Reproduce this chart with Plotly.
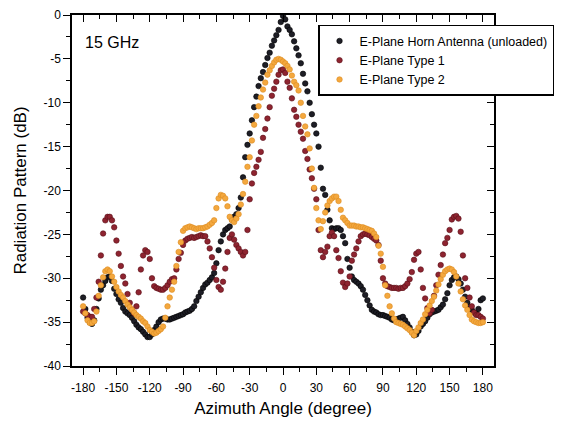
import plotly.graph_objects as go

angles = list(range(-180, 181, 2))

horn_unloaded = [
    -32.2, -33.5, -34.5, -35.0, -35.2, -34.8, -33.5, -32.3, -31.3, -30.8,
    -30.3, -29.9, -29.8, -30.3, -31.2, -31.8, -32.4, -32.8, -33.4, -33.8,
    -34.0, -34.2, -34.5, -34.9, -35.3, -35.6, -35.8, -36.1, -36.4, -36.7,
    -36.7, -36.4, -35.9, -35.5, -35.0, -34.7, -34.6, -34.6, -34.7, -34.7,
    -34.6, -34.5, -34.4, -34.3, -34.2, -34.1, -33.9, -33.8, -33.7, -33.5,
    -33.2, -32.6, -32.1, -31.6, -31.1, -30.7, -30.5, -30.2, -29.9, -29.4,
    -28.3, -26.8, -25.8, -25.0, -24.5, -24.3, -24.1, -23.3, -23.0, -22.7,
    -22.0, -20.8, -18.5, -16.2, -14.8, -13.5, -12.0, -10.5, -9.3, -8.1,
    -7.2, -6.5, -5.7, -4.9, -4.3, -3.5, -2.9, -2.3, -1.7, -0.8,
    -0.1,
    -0.5, -1.3, -1.7, -2.2, -3.0, -3.8, -4.6, -5.5, -6.7, -7.8,
    -8.7, -10.0, -11.3, -12.5, -13.5, -15.0, -17.4, -19.8, -20.5, -22.2,
    -23.4, -24.3, -24.4, -24.3, -24.3, -24.5, -25.2, -26.0, -27.8, -28.8,
    -29.8, -30.2, -30.4, -30.6, -30.9, -31.3, -31.9, -32.5, -33.1, -33.6,
    -33.8, -33.9, -34.1, -34.2, -34.2, -34.3, -34.4, -34.5, -34.7, -34.8,
    -34.7, -34.6, -34.5, -34.4, -34.8, -35.2, -35.6, -36.1, -36.5, -36.4,
    -36.0, -35.5, -35.2, -34.9, -34.5, -34.1, -33.9, -33.8, -33.7, -33.6,
    -33.3, -33.0, -32.4, -31.7, -30.8, -30.2, -29.9, -29.8, -30.1, -30.6,
    -31.3, -32.1, -32.8, -33.3, -33.6, -33.9, -34.0, -33.5, -32.5, -32.3,
]

type1 = [
    -33.8, -34.0, -34.2, -34.4, -34.4, -33.5, -32.2, -30.4, -27.4, -24.9,
    -23.4, -23.0, -23.0, -23.4, -24.2, -25.7, -27.2, -28.6, -29.8, -30.6,
    -31.8, -32.8, -33.6, -34.0, -33.2, -31.6, -29.0, -27.4, -26.8, -27.0,
    -27.8, -30.0, -30.9, -31.1, -31.2, -31.3, -31.3, -31.1, -30.8, -30.4,
    -30.1, -30.0, -29.0, -27.8, -27.1, -26.2, -25.7, -25.5, -25.4, -25.3,
    -25.4, -25.3, -25.2, -25.1, -25.2, -25.2, -25.8, -26.6, -27.6, -28.8,
    -30.2, -31.0, -31.3, -30.4, -28.9, -27.0, -25.4, -25.0, -25.6, -26.2,
    -26.6, -27.0, -27.4, -27.0, -24.5, -21.0, -19.2, -18.0, -17.3, -16.5,
    -15.6, -14.0, -13.0, -11.8, -10.5, -9.2, -8.4, -7.6, -6.8, -6.3,
    -6.2,
    -6.6, -7.6, -8.3, -9.5, -10.8, -11.6, -12.5, -13.3, -14.1, -15.5,
    -16.4, -17.6, -18.6, -19.8, -21.0, -24.5, -26.8, -27.6, -27.0, -26.4,
    -25.2, -24.8, -25.2, -26.8, -27.7, -29.2, -30.5, -31.0, -30.6, -29.8,
    -28.0, -27.3, -26.6, -25.8, -25.2, -25.0, -24.9, -25.0, -25.1, -25.3,
    -25.5, -25.7, -26.2, -28.0, -30.0, -30.6, -30.9, -31.0, -31.1, -31.1,
    -31.1, -31.2, -31.1, -31.1, -30.9, -30.6, -30.1, -29.3, -27.9, -27.2,
    -27.0, -29.0, -31.1, -32.3, -33.4, -34.0, -33.6, -32.0, -30.8, -29.6,
    -28.5, -27.3, -26.0, -25.4, -24.5, -23.3, -23.0, -22.9, -23.2, -24.7,
    -27.4, -30.0, -31.1, -32.2, -33.2, -33.9, -34.2, -34.2, -34.4, -34.6,
]

type2 = [
    -33.2, -34.0, -34.8, -35.1, -35.1, -34.9, -33.8, -32.0, -30.8, -29.9,
    -29.2, -29.0, -29.2, -29.8, -30.4, -31.0, -31.5, -31.9, -32.2, -32.6,
    -33.0, -33.3, -33.6, -33.9, -34.2, -34.4, -34.6, -34.9, -35.1, -35.5,
    -35.9, -36.1, -36.3, -36.2, -36.0, -35.8, -35.5, -34.5, -33.2, -32.2,
    -31.3, -30.4, -28.6, -27.0, -25.9, -24.6, -24.3, -24.2, -24.1, -24.2,
    -24.3, -24.4, -24.3, -24.3, -24.3, -24.2, -24.1, -23.9, -23.7, -23.4,
    -22.0, -20.9, -20.5, -20.6, -20.9, -21.8, -23.0, -23.4, -23.6, -23.2,
    -22.7, -21.6, -20.4, -19.0, -17.3, -16.2, -14.3, -12.5, -11.5, -10.4,
    -9.4, -8.5, -7.7, -6.8, -6.3, -5.8, -5.4, -5.1, -5.0, -5.1,
    -5.3,
    -5.5, -5.8, -6.2, -6.9, -7.6, -8.0, -8.6, -10.0, -11.5, -12.7,
    -13.6, -15.2, -17.5, -19.7, -22.0, -23.4, -24.4, -23.5, -22.5, -21.7,
    -21.2, -20.9, -20.7, -20.7, -21.2, -22.2, -23.1, -23.4, -23.7, -24.0,
    -24.0, -24.0, -24.1, -24.1, -24.2, -24.2, -24.3, -24.4, -24.5, -24.6,
    -24.9, -25.3, -26.3, -27.2, -28.7, -30.8, -32.0, -33.2, -34.0, -34.6,
    -35.0, -35.1, -35.2, -35.3, -35.5, -35.7, -35.9, -36.2, -36.5, -36.0,
    -35.6, -35.1, -34.7, -34.1, -33.6, -33.1, -32.6, -32.1, -31.4, -30.7,
    -30.1, -29.6, -29.2, -29.0, -28.9, -29.0, -29.3, -29.8, -30.6, -31.5,
    -32.4, -33.1, -33.6, -34.2, -34.7, -34.9, -35.0, -35.1, -35.1, -35.0,
]

series_names = ["E-Plane Horn Antenna (unloaded)", "E-Plane Type 1", "E-Plane Type 2"]
x_tick_vals = list(range(-180, 181, 30))
x_tick_text = [str(v) for v in x_tick_vals]
y_tick_vals = list(range(-40, 1, 5))
y_tick_text = [str(v) for v in y_tick_vals]

FONT = "Arial, 'Liberation Sans', sans-serif"

fig = go.Figure()
styles = [
    dict(color="#1e1e26", line=dict(color="#000000", width=0.6)),
    dict(color="#8e2430", line=dict(color="#5a0f18", width=0.6)),
    dict(color="#f4a83e", line=dict(color="#dc8c22", width=0.6)),
]
for name, ys, st in zip(series_names, [horn_unloaded, type1, type2], styles):
    fig.add_trace(go.Scatter(
        x=angles, y=ys, mode="markers", name=name,
        marker=dict(size=5.5, symbol="circle", **st),
    ))

axis_common = dict(
    showline=True, linecolor="black", linewidth=1.5, showgrid=False,
    zeroline=False, ticklen=7, tickwidth=1.3, tickcolor="black",
    automargin=False,
)

fig.update_layout(
    width=561, height=421,
    margin=dict(l=72, r=67, t=15, b=55, autoexpand=False),
    paper_bgcolor="white", plot_bgcolor="white",
    font=dict(family=FONT, size=12, color="black"),
    showlegend=True,
    legend=dict(
        x=0.583, y=0.972, xanchor="left", yanchor="top",
        bgcolor="white", bordercolor="black", borderwidth=1.5,
        font=dict(family=FONT, size=12.5, color="black"),
        tracegroupgap=0, itemwidth=30,
    ),
    xaxis=dict(
        range=[-190, 190], tickvals=x_tick_vals, ticktext=x_tick_text, ticks="outside",
        minor=dict(ticks="outside", dtick=15, tick0=-180, ticklen=4, tickcolor="black"),
        title=dict(text="Azimuth Angle (degree)", font=dict(size=17), standoff=8),
        tickfont=dict(size=12), ticklabelstandoff=3,
        **axis_common,
    ),
    yaxis=dict(
        range=[-40, 0], tickvals=y_tick_vals, ticktext=y_tick_text, ticks="outside",
        minor=dict(ticks="outside", dtick=2.5, tick0=0, ticklen=4, tickcolor="black"),
        title=dict(text="Radiation Pattern (dB)", font=dict(size=17), standoff=13),
        tickfont=dict(size=12),
        **axis_common,
    ),
    xaxis2=dict(
        overlaying="x", matches="x", side="top", range=[-190, 190],
        tickvals=x_tick_vals, ticks="inside", showticklabels=False,
        minor=dict(ticks="inside", dtick=15, tick0=-180, ticklen=4, tickcolor="black"),
        **axis_common,
    ),
    yaxis2=dict(
        overlaying="y", matches="y", side="right", range=[-40, 0],
        tickvals=y_tick_vals, ticks="inside", showticklabels=False,
        minor=dict(ticks="inside", dtick=2.5, tick0=0, ticklen=4, tickcolor="black"),
        **axis_common,
    ),
    annotations=[dict(
        x=0.026, y=0.921, xref="paper", yref="paper", xanchor="left", yanchor="middle",
        text="15 GHz", showarrow=False, font=dict(family=FONT, size=16, color="black"),
    )],
)

fig.add_trace(go.Scatter(x=[None], y=[None], xaxis="x2", yaxis="y2",
                         showlegend=False, hoverinfo="skip"))

fig.write_html("out.html", config={"displayModeBar": False},
               post_script="document.body.style.margin='0px';")
